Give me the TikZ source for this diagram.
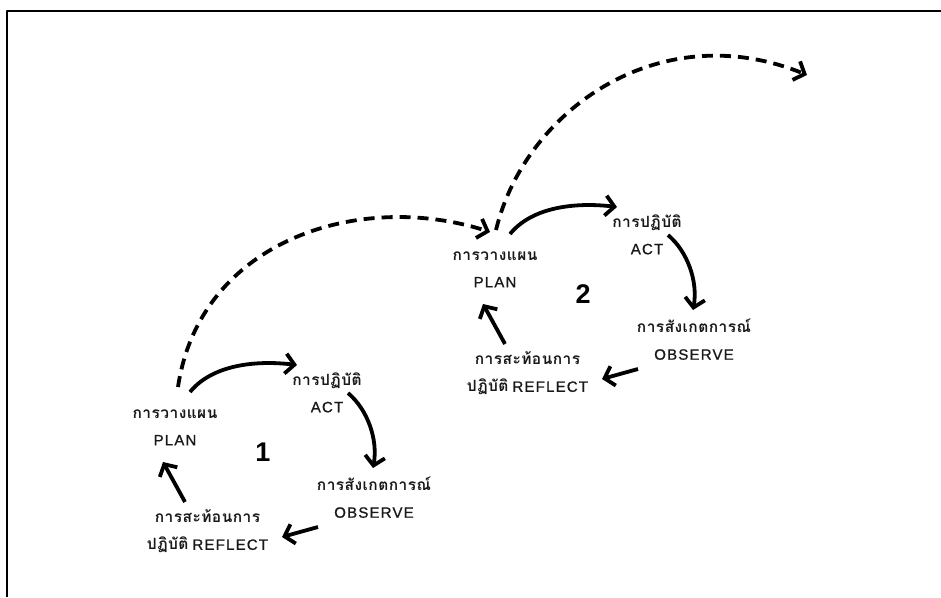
\documentclass[tikz,border=0pt]{standalone}
\usepackage{fontspec}
\setmainfont{Liberation Sans}
\newfontfamily\thaifont[Script=Thai,LetterSpace=3]{Loma}
\newfontfamily\capsfont[LetterSpace=8,FakeBold=1]{Liberation Sans}
\usetikzlibrary{arrows.meta}
\tikzset{
	lbl/.style={align=center,text=black!90,font=\fontsize{15}{27}\selectfont,inner sep=0pt},
	num/.style={font=\fontsize{27}{27}\selectfont\bfseries,inner sep=0pt},
	cyc/.style={line width=3.8pt,-{Straight Barb[length=9pt,width=20pt]}},
	nxt/.style={cyc,dash pattern=on 11pt off 7pt}
}
\newcommand{\thtxt}[1]{{\fontsize{15.5}{27}\selectfont\thaifont\bfseries #1}}
\begin{document}
\begin{tikzpicture}[line join=round,x=1pt,y=1pt]
				\useasboundingbox (0,0) rectangle (941,597);
				\draw [line width=1.3pt] (7,0)-- (7,586)-- (941,586);
				% cycle 1
				\node[lbl] (plan1) at (175,169.5) {\thtxt{การวางแผน}\\{\capsfont PLAN}};
				\node[lbl] (act1) at (327,204.5) {\thtxt{การปฏิบัติ}\\{\capsfont ACT}};
				\node[lbl] (obs1) at (374,99.5) {\thtxt{การสังเกตการณ์}\\{\capsfont OBSERVE}};
				\node[lbl] (ref1) at (207.5,65.5) {\thtxt{การสะท้อนการ}\\\thtxt{ปฏิบัติ}\hspace{4pt}{\capsfont REFLECT}};
				\node[num] (num1) at (263,145) {1};
				% cycle 2
				\node[lbl] (plan2) at (495,327.5) {\thtxt{การวางแผน}\\{\capsfont PLAN}};
				\node[lbl] (act2) at (647,362.5) {\thtxt{การปฏิบัติ}\\{\capsfont ACT}};
				\node[lbl] (obs2) at (694,257.5) {\thtxt{การสังเกตการณ์}\\{\capsfont OBSERVE}};
				\node[lbl] (ref2) at (527.5,223.5) {\thtxt{การสะท้อนการ}\\\thtxt{ปฏิบัติ}\hspace{4pt}{\capsfont REFLECT}};
				\node[num] (num2) at (583,303) {2};
				\coordinate (next) at (807,522);
				% arrows of cycle 1
				\draw [cyc] ([shift={(15,35.5)}]plan1.center) .. controls +(22,27) and +(-42,5) .. ([shift={(-30,27.5)}]act1.center);
				\draw [cyc] ([shift={(21,-0.5)}]act1.center) .. controls +(20,-17) and +(5,28) .. ([shift={(-1,29.5)}]obs1.center);
				\draw [cyc] ([shift={(-56,-29.5)}]obs1.center)-- ([shift={(74.5,-5.5)}]ref1.center);
				\draw [cyc] ([shift={(-22.5,29.5)}]ref1.center)-- ([shift={(-12,-34.5)}]plan1.center);
				% arrows of cycle 2
				\draw [cyc] ([shift={(15,35.5)}]plan2.center) .. controls +(22,27) and +(-42,5) .. ([shift={(-30,27.5)}]act2.center);
				\draw [cyc] ([shift={(21,-0.5)}]act2.center) .. controls +(20,-17) and +(5,28) .. ([shift={(-1,29.5)}]obs2.center);
				\draw [cyc] ([shift={(-56,-29.5)}]obs2.center)-- ([shift={(74.5,-5.5)}]ref2.center);
				\draw [cyc] ([shift={(-22.5,29.5)}]ref2.center)-- ([shift={(-12,-34.5)}]plan2.center);
				% dashed links
				\draw [nxt] ([shift={(3,40.5)}]plan1.center) .. controls +(22,147) and +(-130,42) .. ([shift={(-5,37.5)}]plan2.center);
				\draw [nxt] ([shift={(1,39.5)}]plan2.center) .. controls +(29,120) and +(-147,60) .. (next);
\end{tikzpicture}
\end{document}
